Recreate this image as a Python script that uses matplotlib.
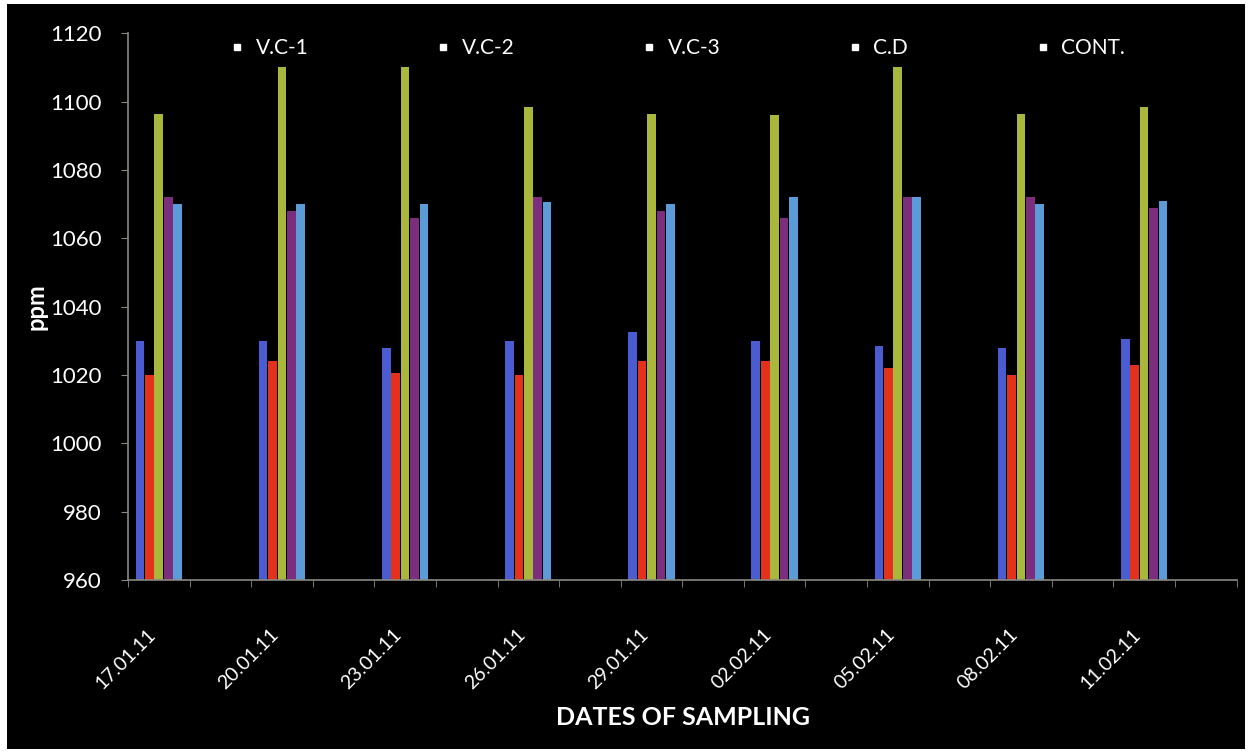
import numpy as np
import matplotlib.pyplot as plt
from matplotlib.lines import Line2D
from matplotlib.patches import Rectangle

plt.rcParams['font.family'] = ['Lato', 'DejaVu Sans']

dates = ['17.01.11', '20.01.11', '23.01.11', '26.01.11', '29.01.11',
         '02.02.11', '05.02.11', '08.02.11', '11.02.11']
series_names = ['V.C-1', 'V.C-2', 'V.C-3', 'C.D', 'CONT.']

vc1 = [1030, 1030, 1028, 1030, 1032.5, 1030, 1028.5, 1028, 1030.5]
vc2 = [1020, 1024, 1020.5, 1020, 1024, 1024, 1022, 1020, 1023]
vc3 = [1096.5, 1110, 1110, 1098.5, 1096.5, 1096, 1110, 1096.5, 1098.5]
cd = [1072, 1068, 1066, 1072, 1068, 1066, 1072, 1072, 1069]
cont = [1070, 1070, 1070, 1070.5, 1070, 1072, 1072, 1070, 1071]

colors = ['#4a5ccf', '#e3311b', '#a9b83c', '#7b2e7e', '#5b9bd8']

fig = plt.figure(figsize=(12.49, 7.53), dpi=100, facecolor='white')
# black panel with a thin white margin
fig.patches.append(Rectangle((7 / 1249, 4 / 753), 1238 / 1249, 745 / 753,
                             transform=fig.transFigure, facecolor='black',
                             edgecolor='none', zorder=-10))

ax = fig.add_axes([128 / 1249, 1 - 580 / 753, 1109 / 1249, 546.7 / 753])
ax.set_facecolor('black')

x = np.arange(len(dates))
step = 0.0765
width = 0.07
for k, (vals, col) in enumerate(zip([vc1, vc2, vc3, cd, cont], colors)):
    ax.bar(x + (k - 2) * step, vals, width=width, color=col, edgecolor='none')

ax.set_ylim(960, 1120)
ax.set_xlim(-0.2476, 8.754)
ax.set_yticks(np.arange(960, 1121, 20))

ax.set_xticks(x)
ax.set_xticklabels(dates, rotation=45, ha='right', fontsize=14, color='white')
ax.set_xticks(np.arange(-0.25, 8.8, 0.5), minor=True)
ax.tick_params(axis='x', which='major', length=0, pad=33)
ax.tick_params(axis='x', which='minor', length=5, color='#8a8a80', direction='out')
ax.tick_params(axis='y', length=5, color='#8a8a80', labelsize=16,
               labelcolor='white', pad=14)

for side in ['top', 'right']:
    ax.spines[side].set_visible(False)
for side in ['left', 'bottom']:
    ax.spines[side].set_color('#8a8a80')
    ax.spines[side].set_linewidth(1.2)

ax.set_ylabel('ppm', fontsize=17, fontweight='bold', color='white', labelpad=2)
ax.set_xlabel('DATES OF SAMPLING', fontsize=18, fontweight='bold', color='white',
              labelpad=10)

handles = [Line2D([], [], linestyle='none', marker='s', markersize=5,
                  markerfacecolor='white', markeredgecolor='white')
           for _ in series_names]
leg = ax.legend(handles, series_names, ncol=5, loc='center',
                bbox_to_anchor=(678 / 1249, 1 - 48 / 753),
                bbox_transform=fig.transFigure, frameon=False, fontsize=15,
                labelcolor='white', columnspacing=6.15, handlelength=0.6,
                handletextpad=0.6)

fig.savefig('out.png', dpi=100, facecolor=fig.get_facecolor())
